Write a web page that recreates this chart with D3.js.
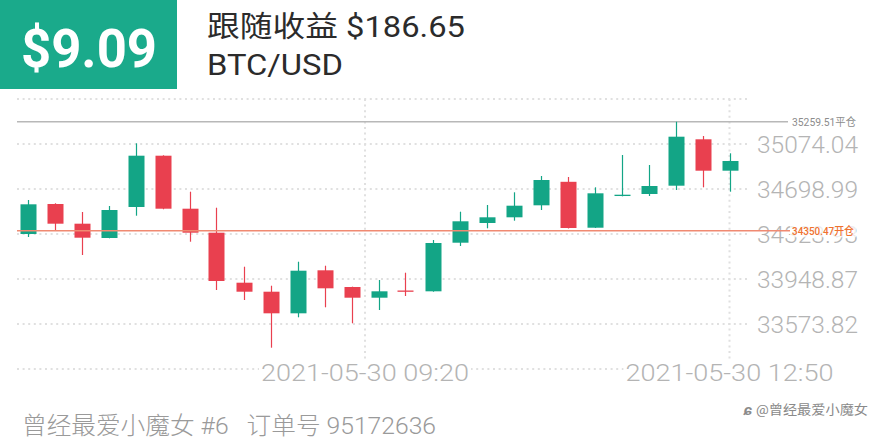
<!DOCTYPE html>
<html><head><meta charset="utf-8">
<script src="https://cdn.jsdelivr.net/npm/d3@7/dist/d3.min.js"></script>
<style>
html,body{margin:0;padding:0;background:#fff;}
svg{display:block;}
</style></head>
<body>
<svg id="c" width="880" height="440"></svg>
<script>
// ---- data ----
const candleIndex = d3.range(27);
const opens  = [34323.9, 34574.0, 34409.8, 34290.6, 34549.0, 34976.5, 34534.8, 34334.8, 33918.0, 33843.0, 33662.9, 34021.3, 33882.2, 33793.0, 33853.0, 33846.3, 34251.4, 34415.6, 34463.1, 34563.1, 34759.0, 34376.4, 34640.6, 34657.3, 34726.5, 35113.2, 34851.5];
const closes = [34571.4, 34409.8, 34293.1, 34523.9, 34976.5, 34534.8, 34334.8, 33932.2, 33843.0, 33662.9, 34018.0, 33871.3, 33793.0, 33846.3, 33845.0, 34248.9, 34429.8, 34463.1, 34559.8, 34774.0, 34373.9, 34663.1, 34651.4, 34724.0, 35134.9, 34851.5, 34932.4];
const highs  = [34607.3, 34580.0, 34507.3, 34557.3, 35079.9, 34980.0, 34676.5, 34543.1, 34051.4, 33893.0, 34093.0, 34059.7, 33885.0, 33940.5, 34001.4, 34273.9, 34509.8, 34565.6, 34671.5, 34807.3, 34799.0, 34713.1, 34982.3, 34899.0, 35259.51, 35140.7, 34996.5];
const lows   = [34298.9, 34348.9, 34148.9, 34288.0, 34476.4, 34530.0, 34259.7, 33857.2, 33773.8, 33376.3, 33629.6, 33712.9, 33579.6, 33690.5, 33807.1, 33843.0, 34223.9, 34371.4, 34434.8, 34523.9, 34370.0, 34374.0, 34638.0, 34640.6, 34690.6, 34713.1, 34676.5];
const priceTicks = [35074.04, 34698.99, 34323.93, 33948.87, 33573.82];
const timeTickPos = [12.5, 26];
const timeTickLabels = ["2021-05-30 09:20", "2021-05-30 12:50"];
const closePrice = 35259.51;
const openPrice = 34350.47;
const profit = "$9.09";
const titleText = "跟随收益 $186.65";
const pairText = "BTC/USD";
const footerText = "曾经最爱小魔女 #6   订单号 95172636";
const watermark = "@曾经最爱小魔女";

// ---- scales ----
const x = d3.scaleLinear().domain([0, 26]).range([27.5, 729.5]);
const y = d3.scaleLinear().domain([33573.82, 35074.04]).range([324, 144]);
const step = priceTicks[0] - priceTicks[1];
const gridVals = [priceTicks[0] + step, ...priceTicks, priceTicks[4] - step];

const svg = d3.select("#c");
const UP = "#13a586", DOWN = "#e9404f";
const LATIN_CJK = "Roboto, 'Noto Sans CJK SC', sans-serif";

// header
svg.append("rect").attr("x", 0).attr("y", 0).attr("width", 177).attr("height", 89).attr("fill", "#1aaa8b");
svg.append("text").attr("x", 21).attr("y", 67).attr("fill", "#fff")
  .attr("textLength", 136).attr("lengthAdjust", "spacingAndGlyphs")
  .style("font", "bold 54px " + LATIN_CJK).text(profit);
svg.append("text").attr("x", 207).attr("y", 37).attr("fill", "#2b2b2b")
  .attr("textLength", 258).attr("lengthAdjust", "spacingAndGlyphs")
  .style("font", "400 29px " + LATIN_CJK).text(titleText);
svg.append("text").attr("x", 207).attr("y", 75).attr("fill", "#2b2b2b")
  .attr("textLength", 136).attr("lengthAdjust", "spacingAndGlyphs")
  .style("font", "400 29px " + LATIN_CJK).text(pairText);

// horizontal grid
svg.append("g").selectAll("line").data(gridVals).join("line")
  .attr("x1", 17).attr("x2", 750)
  .attr("y1", d => y(d)).attr("y2", d => y(d))
  .attr("stroke", "#e0e0e0").attr("stroke-width", 2).attr("stroke-dasharray", "2,3.6");

// vertical grid
svg.append("g").selectAll("line").data(timeTickPos).join("line")
  .attr("x1", d => x(d)).attr("x2", d => x(d))
  .attr("y1", y(gridVals[0])).attr("y2", y(gridVals[gridVals.length - 1]))
  .attr("stroke", "#e0e0e0").attr("stroke-width", 2).attr("stroke-dasharray", "2,3.6");

// right price axis
const axis = d3.axisRight(y).tickValues(priceTicks).tickSize(0).tickPadding(0).tickFormat(d3.format(".2f"));
const ag = svg.append("g").attr("transform", "translate(757,0)").call(axis);
ag.select(".domain").remove();
ag.selectAll("text").attr("fill", "#b4b4b4").attr("dy", "0.36em")
  .attr("textLength", 101).attr("lengthAdjust", "spacingAndGlyphs")
  .style("font", "300 24px Roboto, sans-serif");

// close line (top)
svg.append("line").attr("x1", 17).attr("x2", 788)
  .attr("y1", y(closePrice)).attr("y2", y(closePrice))
  .attr("stroke", "#b8b8b8").attr("stroke-width", 1.5);
svg.append("text").attr("x", 792).attr("y", y(closePrice)).attr("dy", "0.35em")
  .attr("fill", "#8c8c8c").style("font", "400 11px " + LATIN_CJK)
  .attr("textLength", 64).attr("lengthAdjust", "spacingAndGlyphs")
  .text(closePrice.toFixed(2) + "平仓");

// candles
const bw = 16;
const cg = svg.append("g");
const col = i => closes[i] >= opens[i] ? UP : DOWN;
cg.selectAll("line").data(candleIndex).join("line")
  .attr("x1", i => Math.round(x(i)) + 0.5).attr("x2", i => Math.round(x(i)) + 0.5)
  .attr("y1", i => y(highs[i])).attr("y2", i => y(lows[i]))
  .attr("stroke", col).attr("stroke-width", 1.2);
cg.selectAll("rect").data(candleIndex).join("rect")
  .attr("x", i => Math.round(x(i)) + 0.5 - bw / 2).attr("width", bw)
  .attr("y", i => y(Math.max(opens[i], closes[i])))
  .attr("height", i => Math.max(1.3, Math.abs(y(opens[i]) - y(closes[i]))))
  .attr("fill", col);

// open line
svg.append("line").attr("x1", 17).attr("x2", 790)
  .attr("y1", y(openPrice)).attr("y2", y(openPrice))
  .attr("stroke", "#f08a72").attr("stroke-width", 1.5);
svg.append("rect").attr("x", 790).attr("y", y(openPrice) - 6.5).attr("width", 66).attr("height", 13)
  .attr("fill", "#fff").attr("opacity", 0.75);
svg.append("text").attr("x", 792).attr("y", y(openPrice)).attr("dy", "0.35em")
  .attr("fill", "#f0722f").style("font", "500 11px " + LATIN_CJK)
  .attr("textLength", 62).attr("lengthAdjust", "spacingAndGlyphs")
  .text(openPrice.toFixed(2) + "开仓");

// time labels
const bottomY = y(gridVals[gridVals.length - 1]);
const tg = svg.append("g").selectAll("g").data(timeTickPos).join("g")
  .attr("transform", d => `translate(${x(d)},${bottomY + 4})`);
tg.append("rect").attr("x", -106).attr("y", -12).attr("width", 212).attr("height", 22).attr("fill", "#fff");
tg.append("text").attr("text-anchor", "middle").attr("dy", "0.36em")
  .attr("fill", "#b4b4b4").style("font", "300 23px Roboto, sans-serif")
  .attr("textLength", 208).attr("lengthAdjust", "spacingAndGlyphs")
  .text((d, i) => timeTickLabels[i]);

// footer
svg.append("text").attr("x", 22).attr("y", 434).attr("fill", "#9a9a9a")
  .style("font", "300 24px " + LATIN_CJK).attr("xml:space", "preserve")
  .attr("textLength", 414).attr("lengthAdjust", "spacingAndGlyphs")
  .text(footerText);

// watermark
svg.append("text").attr("x", 868).attr("y", 414).attr("text-anchor", "end")
  .attr("fill", "#8a8a8a").attr("stroke", "#fff").attr("stroke-width", 2).attr("paint-order", "stroke")
  .attr("textLength", 112).attr("lengthAdjust", "spacingAndGlyphs")
  .style("font", "400 13px " + LATIN_CJK).text(watermark);
svg.append("text").attr("x", 752).attr("y", 415).attr("text-anchor", "end")
  .attr("fill", "#8a8a8a").style("font", "italic 700 15px sans-serif").text("ɕ");
</script>
</body></html>
